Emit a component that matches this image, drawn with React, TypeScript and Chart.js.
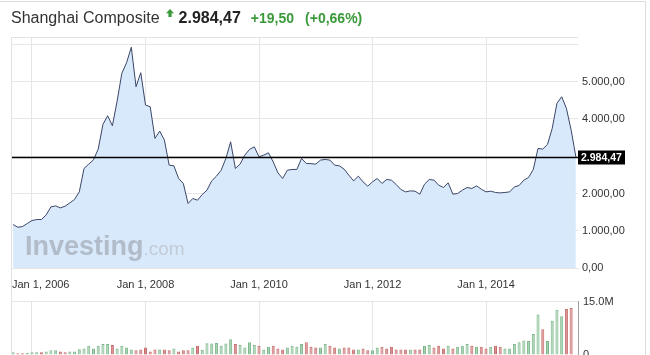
import React, { useEffect, useRef } from "react";
import { Chart, registerables } from "chart.js";

Chart.register(...registerables);

const FONT = "'Liberation Sans', Arial, Helvetica, sans-serif";

// Monthly series, first point = Sep 2005
const START_YEAR = 2005;
const START_MONTH = 9;

const PRICE = [
  1167, 1094, 1113, 1194, 1274, 1301, 1301, 1425, 1640, 1667, 1613, 1659,
  1747, 1839, 2043, 2672, 2788, 2903, 3191, 3855, 4086, 3817, 4481, 5226,
  5511, 5925, 4866, 5242, 4374, 4328, 3478, 3675, 3433, 2761, 2742, 2403,
  2269, 1731, 1866, 1820, 1973, 2089, 2339, 2465, 2626, 2941, 3387, 2672,
  2788, 3030, 3183, 3253, 2984, 3030, 3091, 2849, 2554, 2403, 2626, 2645,
  2645, 2941, 2806, 2800, 2788, 2895, 2914, 2895, 2761, 2742, 2653, 2492,
  2339, 2465, 2312, 2196, 2312, 2403, 2269, 2376, 2358, 2242, 2108, 2043,
  2070, 2062, 1981, 2250, 2376, 2358, 2223, 2161, 2285, 1981, 2000, 2089,
  2161, 2134, 2204, 2116, 2043, 2062, 2027, 2016, 2027, 2043, 2177, 2215,
  2358, 2430, 2645, 3210, 3191, 3317, 3747, 4419, 4597, 4285, 3702, 2984.47,
];

// Volume in millions (one bar per month, last month has no bar)
const VOLUME_M = [
  0.78, 0.5, 0.5, 0.6, 0.78, 0.78, 0.78, 1.0, 1.3, 1.3, 1.0, 0.78,
  1.0, 1.0, 1.6, 1.8, 2.6, 1.8, 2.6, 3.1, 3.1, 2.8, 1.8, 2.6,
  2.1, 1.55, 1.3, 1.55, 2.1, 1.0, 1.55, 1.55, 1.55, 1.3, 1.8, 1.0,
  1.3, 1.3, 2.1, 2.6, 1.46, 3.3, 3.2, 3.35, 2.6, 3.2, 4.4, 3.1,
  2.8, 2.1, 3.6, 2.8, 2.6, 1.55, 2.3, 2.6, 1.8, 1.55, 2.1, 2.6,
  2.3, 3.1, 3.6, 2.3, 2.1, 2.1, 3.1, 2.6, 2.1, 1.8, 2.1, 2.1,
  1.55, 1.55, 1.8, 1.3, 1.3, 2.1, 2.3, 1.8, 2.3, 1.55, 1.55, 1.55,
  1.55, 1.55, 1.55, 2.6, 2.8, 2.1, 2.6, 1.8, 2.6, 1.8, 2.3, 2.6,
  3.1, 2.6, 2.3, 2.3, 1.8, 2.3, 2.6, 2.3, 1.8, 1.8, 3.1, 3.6,
  4.1, 3.9, 5.9, 11.4, 7.2, 3.9, 9.6, 12.7, 10.9, 12.9, 13.2,
];

// 1 = up (green), 0 = down (red)
const VOLUME_UP = [
  1, 0, 0, 1, 1, 1, 0, 1, 1, 1, 0, 0,
  1, 1, 1, 1, 1, 1, 1, 1, 1, 0, 1, 1,
  1, 1, 0, 0, 0, 0, 0, 1, 0, 0, 1, 0,
  0, 0, 1, 0, 1, 1, 1, 1, 1, 1, 1, 0,
  1, 1, 1, 1, 0, 1, 1, 0, 0, 0, 1, 1,
  1, 1, 0, 0, 0, 1, 1, 0, 0, 1, 0, 0,
  0, 1, 0, 0, 1, 1, 0, 0, 0, 0, 0, 0,
  1, 0, 0, 1, 1, 0, 0, 0, 1, 0, 1, 1,
  1, 0, 1, 0, 0, 1, 0, 0, 1, 1, 1, 1,
  1, 1, 1, 1, 0, 1, 1, 1, 1, 0, 0,
];

const X_TICK_YEARS = [2006, 2008, 2010, 2012, 2014];
const Y_TICKS = [0, 1000, 2000, 3000, 4000, 5000, 6000];
const Y_MAX_LABEL = 5000;
const VOL_TICKS = [0, 15];

const LAST_VALUE = 2984.47;
const TITLE = "Shanghai Composite";
const CHANGE = "+19,50";
const CHANGE_PCT = "(+0,66%)";

const X_MIN = 2005.63;
const X_MAX = 2015.621;
const Y_MAX = 6200;

const monthX = (i: number) => START_YEAR + (START_MONTH - 1 + i) / 12;

function fmt(v: number): string {
  const [a, b] = v.toFixed(2).split(".");
  return a.replace(/\B(?=(\d{3})+(?!\d))/g, ".") + "," + b;
}

const GRID = "#e6e6e6";
const TEXT = "#333333";
const GREEN = "#3a9a3a";

const mainPlugin = {
  id: "mainDecor",
  afterDatasetsDraw(chart: any) {
    const { ctx, chartArea } = chart;
    ctx.save();
    // watermark
    ctx.textBaseline = "alphabetic";
    ctx.textAlign = "left";
    ctx.font = `bold 27px ${FONT}`;
    ctx.fillStyle = "#b2bcc9";
    const wx = chartArea.left + 14;
    const wy = chartArea.bottom - 13;
    ctx.fillText("Investing", wx, wy);
    const w = ctx.measureText("Investing").width;
    ctx.font = `19px ${FONT}`;
    ctx.fillStyle = "#c2cbd7";
    ctx.fillText(".com", wx + w, wy);
    ctx.restore();
  },
  afterDraw(chart: any) {
    const { ctx, chartArea } = chart;
    const xs = chart.scales.x;
    const ys = chart.scales.y;
    ctx.save();
    // x labels
    ctx.font = `11px ${FONT}`;
    ctx.fillStyle = TEXT;
    ctx.textBaseline = "alphabetic";
    ctx.textAlign = "left";
    X_TICK_YEARS.forEach((yr) => {
      const label = `Jan 1, ${yr}`;
      const px = xs.getPixelForValue(yr);
      const tw = ctx.measureText(label).width;
      const left = Math.max(px - tw / 2, chartArea.left + 1);
      ctx.fillText(label, left, chartArea.bottom + 20);
    });
    // current value line
    const y = Math.round(ys.getPixelForValue(LAST_VALUE)) + 0.5;
    ctx.strokeStyle = "#000000";
    ctx.lineWidth = 1.3;
    ctx.beginPath();
    ctx.moveTo(chartArea.left, y);
    ctx.lineTo(chartArea.right, y);
    ctx.stroke();
    // value box
    ctx.fillStyle = "#000000";
    ctx.fillRect(chartArea.right, y - 7, 47, 14);
    ctx.fillStyle = "#ffffff";
    ctx.font = `bold 10.5px ${FONT}`;
    ctx.textBaseline = "middle";
    ctx.fillText(fmt(LAST_VALUE), chartArea.right + 3, y + 0.5);
    ctx.restore();
  },
};

export default function App() {
  const mainRef = useRef<HTMLCanvasElement>(null);
  const volRef = useRef<HTMLCanvasElement>(null);

  useEffect(() => {
    const main = new Chart(mainRef.current!, {
      type: "line",
      data: {
        datasets: [
          {
            data: PRICE.map((v, i) => ({ x: monthX(i), y: v })),
            borderColor: "#3b4566",
            borderWidth: 1,
            backgroundColor: "#d8e9fc",
            fill: "origin",
            pointRadius: 0,
            tension: 0,
          },
        ],
      },
      options: {
        animation: false,
        responsive: false,
        layout: { padding: { top: 37, left: 11, right: 0, bottom: 0 } },
        plugins: { legend: { display: false }, tooltip: { enabled: false } },
        scales: {
          x: {
            type: "linear",
            min: X_MIN,
            max: X_MAX,
            offset: false,
            afterBuildTicks: (s: any) => {
              s.ticks = X_TICK_YEARS.map((v) => ({ value: v }));
            },
            ticks: { display: false },
            grid: { color: GRID, drawTicks: false },
            border: { color: GRID },
            afterFit: (s: any) => {
              s.height = 28;
            },
          },
          y: {
            position: "right",
            min: 0,
            max: Y_MAX,
            afterBuildTicks: (s: any) => {
              s.ticks = Y_TICKS.map((v) => ({ value: v }));
            },
            ticks: {
              callback: (v: any) =>
                v > Y_MAX_LABEL || Math.abs(v - LAST_VALUE) < 300 ? "" : fmt(Number(v)),
              font: { size: 11, family: FONT },
              color: TEXT,
              padding: 4,
            },
            grid: { color: GRID, drawTicks: false },
            border: { display: false },
            afterFit: (s: any) => {
              s.width = 72;
            },
          },
        },
      } as any,
      plugins: [mainPlugin],
    });

    const vol = new Chart(volRef.current!, {
      type: "bar",
      data: {
        datasets: [
          {
            data: VOLUME_M.map((v, i) => ({ x: monthX(i), y: v })),
            backgroundColor: VOLUME_UP.map((u) => (u ? "#a2d2ad" : "#d98b8b")),
            borderColor: VOLUME_UP.map((u) => (u ? "#7cb58a" : "#c56b6b")),
            borderWidth: 1,
            barPercentage: 0.64,
            categoryPercentage: 1,
          },
        ],
      },
      options: {
        animation: false,
        responsive: false,
        layout: { padding: { top: 6, left: 11, right: 0, bottom: 15 } },
        plugins: { legend: { display: false }, tooltip: { enabled: false } },
        scales: {
          x: {
            type: "linear",
            min: X_MIN,
            max: X_MAX,
            offset: false,
            afterBuildTicks: (s: any) => {
              s.ticks = X_TICK_YEARS.map((v) => ({ value: v }));
            },
            ticks: { display: false },
            grid: { color: GRID, drawTicks: false, offset: false },
            border: { display: false },
            afterFit: (s: any) => {
              s.height = 0;
            },
          },
          y: {
            position: "right",
            min: 0,
            max: 15,
            afterBuildTicks: (s: any) => {
              s.ticks = VOL_TICKS.map((v) => ({ value: v }));
            },
            ticks: {
              callback: (v: any) => (Number(v) === 15 ? "15.0M" : "0"),
              font: { size: 11, family: FONT },
              color: TEXT,
              padding: 5,
            },
            grid: { color: GRID, drawTicks: false },
            border: { display: true, color: "#a0a0a0" },
            afterFit: (s: any) => {
              s.width = 72;
            },
          },
        },
      } as any,
    });

    return () => {
      main.destroy();
      vol.destroy();
    };
  }, []);

  const line = (style: React.CSSProperties) => (
    <div style={{ position: "absolute", background: "#dcdcdc", ...style }} />
  );

  return (
    <div
      style={{
        position: "absolute",
        left: 0,
        top: 0,
        width: 650,
        height: 355,
        overflow: "hidden",
        background: "#ffffff",
        fontFamily: FONT,
      }}
    >
      <canvas
        ref={mainRef}
        width={650}
        height={296}
        style={{ position: "absolute", left: 0, top: 0, display: "block" }}
      />
      <canvas
        ref={volRef}
        width={650}
        height={80}
        style={{ position: "absolute", left: 0, top: 290, display: "block" }}
      />
      {line({ left: 0, top: 1, width: 646, height: 1 })}
      {line({ left: 645, top: 1, width: 1, height: 354 })}
      {line({ left: 11, top: 37, width: 567, height: 1, background: "#e2e2e2" })}
      {line({ left: 11, top: 37, width: 1, height: 318, background: "#e2e2e2" })}
      <div
        style={{
          position: "absolute",
          left: 11,
          top: 9,
          display: "flex",
          alignItems: "baseline",
          whiteSpace: "nowrap",
        }}
      >
        <span style={{ fontSize: 16, color: TEXT }}>{TITLE}</span>
        <svg
          width="8"
          height="8"
          viewBox="0 0 8 8"
          style={{ marginLeft: 6, position: "relative", top: -6 }}
        >
          <polygon points="4,0 8,4.2 5.6,4.2 5.6,8 2.4,8 2.4,4.2 0,4.2" fill={GREEN} />
        </svg>
        <span style={{ fontSize: 16, fontWeight: "bold", color: "#222", marginLeft: 5 }}>
          {fmt(LAST_VALUE)}
        </span>
        <span style={{ fontSize: 14, fontWeight: "bold", color: GREEN, marginLeft: 10 }}>
          {CHANGE}
        </span>
        <span style={{ fontSize: 14, fontWeight: "bold", color: GREEN, marginLeft: 11 }}>
          {CHANGE_PCT}
        </span>
      </div>
    </div>
  );
}
